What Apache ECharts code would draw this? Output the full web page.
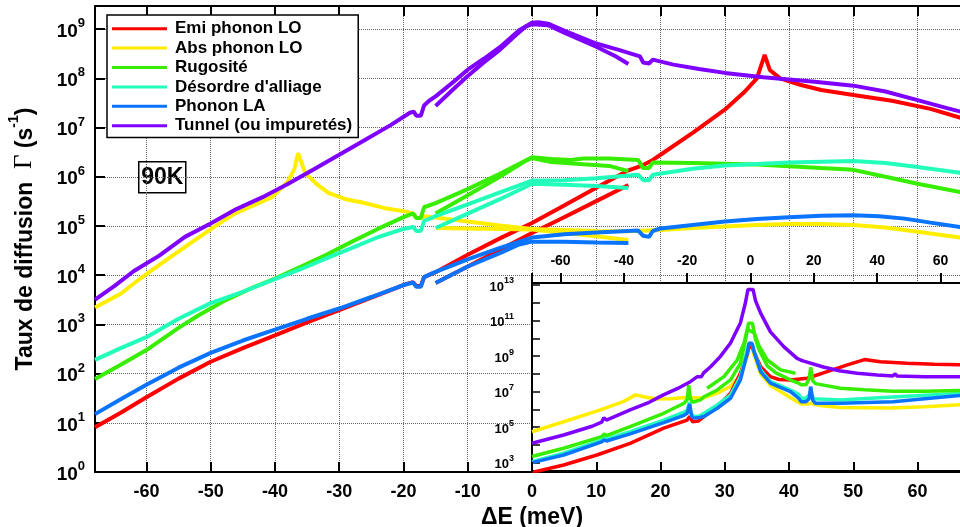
<!DOCTYPE html>
<html><head><meta charset="utf-8">
<script src="https://cdn.jsdelivr.net/npm/echarts@6/dist/echarts.min.js"></script>
<style>html,body{margin:0;padding:0;background:#fff}#c{width:960px;height:527px}</style>
</head><body><div id="c"></div>
<script>
// ---- categories / colours ----
const categories = ['Emi phonon LO','Abs phonon LO','Rugosité',"Désordre d'alliage",'Phonon LA','Tunnel (ou impuretés)'];
const colors = ['#ff0000','#ffee00','#38ee00','#22ffbb','#0a74ff','#8000ff'];

// ---- tick steps (exponents of 10 on the y axes) ----
const mainXStep = 10;
const mainYStep = 1;
const insetXStep = 20;
const insetYStep = 1;
const insetYLabels = [3,5,7,9,11,13];

// ---- main plot data : [ΔE (meV), Γ (s^-1)] ----
const emiMain = [[-68,8.1],[-64,16],[-60,33],[-55,79],[-50,174],[-45,330],[-40,600],[-35,1.1e3],[-30,1.95e3],[-25,3.5e3],[-20,6.3e3],[-18.5,7.2e3],[-18,6.0e3],[-17.3,6.0e3],[-16.8,9.1e3],[-15,1.15e4],[-10,2.6e4],[-5,5.6e4],[0,1.15e5],[5,2.6e5],[10,6.0e5],[15,1.35e6],[17,1.66e6],[18.8,2.2e6],[20,2.8e6],[25,7.8e6],[30,2.3e7],[33,5.2e7],[35,1.0e8],[36.2,3.0e8],[37,1.48e8],[38.6,1.0e8],[41.7,7.4e7],[45,5.8e7],[50,4.6e7],[56,3.5e7],[62,2.4e7],[68,1.41e7]];
const emiBranch = [[-15,6.9e3],[-10,1.5e4],[-5,3.3e4],[0,7.2e4],[5,1.5e5],[10,3.2e5],[15,6.8e5]];

const absMain = [[-68,2.2e3],[-64,4.2e3],[-61.3,7.9e3],[-57,2.0e4],[-52.4,5.2e4],[-49,1.05e5],[-46.2,1.8e5],[-43,2.75e5],[-40.4,3.9e5],[-38,7.9e5],[-37,1.41e6],[-36.4,3.0e6],[-35.3,1.2e6],[-33.5,7.1e5],[-31.7,4.7e5],[-29,3.5e5],[-26.4,3.0e5],[-22.9,2.3e5],[-20,2.0e5],[-18.5,1.8e5],[-18,1.45e5],[-17.3,1.45e5],[-16.8,1.58e5],[-15,1.48e5],[-10,1.23e5],[-5,1.02e5],[0,8.7e4],[5,8.3e4],[10,7.9e4],[15,7.8e4],[20,8.3e4],[25,9.1e4],[30,9.8e4],[35,1.05e5],[40,1.1e5],[45,1.1e5],[50,1.05e5],[55,9.3e4],[60,7.6e4],[66.6,5.8e4],[68,5.4e4]];
const absBranch = [[-15,9.1e4],[-10,8.9e4],[-5,8.7e4],[0,8.5e4],[5,7.2e4],[10,6.2e4],[15,5.2e4]];

const rugMain = [[-68,78],[-64,151],[-60,300],[-55,850],[-52,1.5e3],[-48,2.95e3],[-44,5.2e3],[-40,8.5e3],[-36,1.48e4],[-32,2.6e4],[-28,4.8e4],[-24,8.7e4],[-20,1.51e5],[-18.5,1.8e5],[-18,1.45e5],[-17.3,1.45e5],[-16.8,2.4e5],[-15,2.9e5],[-10,5.6e5],[-5,1.15e6],[0,2.5e6],[3,2.3e6],[6,2.2e6],[8,2.35e6],[12,2.35e6],[16.5,2.2e6],[17.3,1.5e6],[18.2,1.5e6],[18.8,1.95e6],[25,1.9e6],[35,1.78e6],[45,1.5e6],[50,1.38e6],[55,1.0e6],[60,7.2e5],[66.6,4.9e5],[68,4.6e5]];
const rugBranch = [[-15,1.8e5],[-10,4.2e5],[-5,1.0e6],[-1,2.1e6],[0,2.4e6],[3,2.0e6],[8,1.8e6],[12,1.66e6],[15,1.3e6]];

const allMain = [[-68,190],[-64,330],[-60,550],[-55,1.3e3],[-50,2.7e3],[-45,4.6e3],[-40,8.3e3],[-36,1.32e4],[-32,2.2e4],[-28,3.6e4],[-24,5.9e4],[-20,8.7e4],[-18.5,9.5e4],[-18,7.9e4],[-17.3,7.9e4],[-16.8,1.26e5],[-15,1.58e5],[-10,2.75e5],[-5,4.8e5],[0,8.3e5],[5,8.5e5],[10,9.3e5],[16.5,1.1e6],[17.3,8.5e5],[18.2,8.5e5],[18.8,1.1e6],[25,1.45e6],[30,1.7e6],[40,1.95e6],[50,2.1e6],[55,1.9e6],[60,1.58e6],[66.6,1.2e6],[68,1.12e6]];
const allBranch = [[-15,9.1e4],[-10,1.78e5],[-5,3.5e5],[0,7.2e5],[5,6.9e5],[10,6.5e5],[15,5.9e5]];

const laMain = [[-68,15],[-64,30],[-60,59],[-55,132],[-50,263],[-45,470],[-40,780],[-35,1.3e3],[-30,2.1e3],[-25,3.6e3],[-20,6.3e3],[-18.5,7.1e3],[-18,5.8e3],[-17.3,5.8e3],[-16.8,9.1e3],[-15,1.17e4],[-10,2.1e4],[-5,3.6e4],[0,5.8e4],[5,6.8e4],[10,7.4e4],[16.5,8.1e4],[17.3,6.3e4],[18.2,6.0e4],[18.8,7.9e4],[20,8.9e4],[25,1.05e5],[30,1.23e5],[35,1.38e5],[40,1.51e5],[45,1.62e5],[50,1.66e5],[54,1.58e5],[58,1.41e5],[62,1.17e5],[66.6,9.5e4],[68,8.9e4]];
const laBranch = [[-15,6.9e3],[-10,1.5e4],[-5,2.8e4],[-2,4.2e4],[0,4.8e4],[5,4.8e4],[10,4.6e4],[15,4.5e4]];

const tunMain = [[-68,3.2e3],[-65,6.0e3],[-62,1.2e4],[-58,2.5e4],[-54,6.0e4],[-50,1.12e5],[-46,2.2e5],[-42,3.8e5],[-38,7.1e5],[-34,1.41e6],[-30,2.8e6],[-26,5.6e6],[-22,1.12e7],[-19,2.0e7],[-18.4,2.1e7],[-18,1.74e7],[-17.3,1.74e7],[-16.8,2.8e7],[-16,3.5e7],[-15,4.3e7],[-12.5,7.9e7],[-10,1.5e8],[-7.5,2.5e8],[-5,4.3e8],[-2,9.5e8],[0,1.35e9],[1,1.38e9],[2.5,1.29e9],[5,9.3e8],[7.5,6.9e8],[10,5.1e8],[13.5,3.8e8],[16.8,2.8e8],[17.3,2.1e8],[18.2,2.0e8],[18.8,2.4e8],[22,1.9e8],[26,1.55e8],[30,1.29e8],[36,1.05e8],[44,8.5e7],[50,7.1e7],[55,5.4e7],[60,3.6e7],[64,2.6e7],[68,1.9e7]];
const tunBranch = [[-15,2.75e7],[-12.5,5.6e7],[-10,1.12e8],[-7.5,2.1e8],[-5,3.8e8],[-2.5,7.6e8],[-1,1.12e9],[0,1.26e9],[2.5,1.2e9],[5,8.5e8],[10,4.4e8],[13,2.8e8],[15,1.95e8]];

// ---- inset data ----
const emiInset = [[-69,280],[-59,740],[-48.5,2.7e3],[-38,1.23e4],[-27.4,8.7e4],[-20,2.5e5],[-19.2,4.0e5],[-18.3,2.0e5],[-16.5,2.2e5],[-14.7,3.9e5],[-10.5,1.41e6],[-6.3,8.1e6],[-3.2,1.07e8],[-1,1.45e9],[-0.5,3.2e9],[0.5,3.2e9],[1.2,1.6e9],[3.2,2.5e8],[6.3,6.9e7],[9,4.8e7],[12.6,4.5e7],[17.9,5.6e7],[24.2,1.32e8],[30.6,3.2e8],[36,6.3e8],[41,4.8e8],[49.5,3.9e8],[58,3.4e8],[69,3.2e8]];
const absInset = [[-69,5.5e4],[-59,2.0e5],[-47.4,9.3e5],[-40,2.8e6],[-36.3,6.5e6],[-33,4.8e6],[-29.5,3.8e6],[-25,4.0e6],[-21,4.6e6],[-14.7,4.4e6],[-10.5,8.1e6],[-6.3,2.0e7],[-3.2,7.9e7],[-1,1.0e9],[-0.5,3.2e9],[0.5,3.2e9],[1.2,1.0e9],[3.2,1.0e8],[6.3,2.2e7],[10,8.9e6],[14.7,2.7e6],[16,2.0e6],[17.9,2.0e6],[19,2.2e6],[22,1.66e6],[28.4,1.26e6],[44.2,1.2e6],[55,1.41e6],[69,1.9e6]];
const rugInset = [[-69,2.2e3],[-59,6.5e3],[-47,2.9e4],[-46.2,4.2e4],[-45.5,3.3e4],[-38,1.07e5],[-27.4,6.0e5],[-21,2.2e6],[-20,3.5e6],[-19.5,2.3e7],[-19,4.0e6],[-18.3,2.5e6],[-15.8,3.4e6],[-14.7,5.1e6],[-10.5,1.23e7],[-6.3,4.5e7],[-3.2,3.9e8],[-1.6,7.9e9],[-0.6,7.1e10],[0.6,7.1e10],[1.5,1.0e10],[2.6,2.5e9],[5.3,2.8e8],[8,1.12e8],[10.5,6.9e7],[13,4.2e7],[15.2,3.0e7],[16,2.4e7],[17.5,2.4e7],[18.5,5.0e7],[19,2.3e8],[19.7,4.0e7],[20.5,2.8e7],[28.4,1.55e7],[36,1.26e7],[45,1.05e7],[45.6,1.32e7],[46.3,1.05e7],[55,1.05e7],[69,1.17e7]];
const rugInsetBranch = [[-13.7,1.55e7],[-8.4,6.9e7],[-4.2,6.0e8],[-2,5.6e9],[-1,3.2e10],[1.2,2.0e10],[2.6,4.0e9],[5.3,6.0e8],[9.5,1.66e8],[14.2,1.07e8]];
const allInset = [[-69,1.15e3],[-59,3.4e3],[-47,1.86e4],[-46.2,2.5e4],[-45.5,2.1e4],[-38,5.5e4],[-27.4,2.5e5],[-21,6.9e5],[-20,8.9e5],[-19.3,2.5e6],[-18.8,6.3e5],[-17.9,3.9e5],[-16,4.2e5],[-14.7,6.0e5],[-10.5,1.78e6],[-6.3,6.5e6],[-3.2,6.9e7],[-1,2.2e9],[-0.5,5.0e9],[0.5,5.0e9],[1.2,1.6e9],[3.2,1.66e8],[6.3,3.6e7],[12.6,1.23e7],[15.2,7.1e6],[16,4.2e6],[17.5,4.2e6],[19,7.9e6],[19.9,4.0e6],[28.4,3.4e6],[45,5.0e6],[55,6.3e6],[69,8.3e6]];
const laInset = [[-69,1.0e3],[-59,2.7e3],[-47,1.48e4],[-46.2,1.9e4],[-45.5,1.66e4],[-38,4.2e4],[-27.4,1.78e5],[-21,4.6e5],[-20,6.0e5],[-19.2,2.0e6],[-18.6,4.0e5],[-17.9,3.2e5],[-16,3.5e5],[-14.7,4.0e5],[-10.5,1.15e6],[-6.3,4.2e6],[-3.2,4.5e7],[-1,1.45e9],[-0.5,5.2e9],[0.5,5.2e9],[1.2,1.6e9],[3.2,1.32e8],[6.3,3.0e7],[12.6,1.0e7],[15.2,4.2e6],[16,2.7e6],[17.5,2.7e6],[18.5,4.0e6],[19,1.9e7],[19.7,3.2e6],[20.5,2.2e6],[28.4,2.2e6],[45,2.7e6],[55,4.0e6],[69,6.6e6]];
const tunInset = [[-69,1.23e4],[-59,3.6e4],[-50,1.12e5],[-47,1.9e5],[-46.3,3.3e5],[-45.5,2.5e5],[-38,9.3e5],[-32,2.5e6],[-27.5,6.5e6],[-23,1.5e7],[-19,3.6e7],[-16.8,6.9e7],[-15.5,6.9e7],[-14.8,1.12e8],[-12.6,2.5e8],[-9.5,9.5e8],[-6.3,5.4e9],[-3.2,7.2e10],[-1.6,1.0e12],[-0.8,5.6e12],[0.8,5.6e12],[1.6,1.26e12],[3.2,2.6e11],[6.3,2.3e10],[10.5,3.4e9],[14.7,7.4e8],[15.8,6.0e8],[16.8,5.2e8],[23,2.4e8],[28,1.5e8],[33.7,1.07e8],[40,8.5e7],[45,7.6e7],[45.6,1.0e8],[46.3,7.6e7],[55,6.9e7],[69,6.9e7]];

// ---- build ----
const FONT = 'Liberation Sans';
const toLog = pairs => pairs.map(p => [p[0], Math.log10(p[1])]);
function line(ci, data, xi, yi, z, w) {
  return {type:'line', name:categories[ci], data:toLog(data), xAxisIndex:xi, yAxisIndex:yi,
    showSymbol:false, symbol:'none', z:z, silent:true, clip:true, animation:false,
    lineStyle:{color:colors[ci], width:w}, itemStyle:{color:colors[ci]}};
}
const series = [
  line(0, emiMain,0,0,3,4), line(0, emiBranch,0,0,3,4),
  line(1, absMain,0,0,3,4), line(1, absBranch,0,0,3,4),
  line(2, rugMain,0,0,3,4), line(2, rugBranch,0,0,3,4),
  line(3, allMain,0,0,3,4), line(3, allBranch,0,0,3,4),
  line(4, laMain,0,0,3,4), line(4, laBranch,0,0,3,4),
  line(5, tunMain,0,0,3,4), line(5, tunBranch,0,0,3,4),
  line(1, absInset,3,1,7,3.5), line(0, emiInset,3,1,7,3.5),
  line(3, allInset,3,1,7,3.5), line(4, laInset,3,1,7,3.5),
  line(2, rugInset,3,1,7,3.5), line(2, rugInsetBranch,3,1,7,3.5),
  line(5, tunInset,3,1,7,3.5)
];

const isMult = (v, s) => Math.abs(v / s - Math.round(v / s)) < 1e-6;
const blackLine = {show:true, onZero:false, lineStyle:{color:'#000', width:2}};
const dotted = {show:true, lineStyle:{color:'#666', width:1, type:'dotted'}};
const tickIn = {show:true, inside:true, length:10, lineStyle:{color:'#000', width:2}};
const supRich = (b, s, lh) => ({
  b:{fontSize:b, fontWeight:'bold', fontFamily:FONT, lineHeight:lh, verticalAlign:'bottom', color:'#000'},
  s:{fontSize:s, fontWeight:'bold', fontFamily:FONT, lineHeight:s, verticalAlign:'top', color:'#000'}});
const mainX = (extra) => Object.assign({gridIndex:0, type:'value', min:-68, max:68,
  minInterval:mainXStep, maxInterval:mainXStep, splitNumber:14}, extra);
const insetX = (extra) => Object.assign({gridIndex:1, type:'value', min:-69, max:69, z:6,
  minInterval:insetXStep, maxInterval:insetXStep, splitNumber:7}, extra);

const option = {
  animation:false,
  textStyle:{fontFamily:FONT},
  grid:[
    {left:95, top:6, width:874, height:466, show:false, containLabel:false, outerBoundsMode:'none'},
    {left:532, top:283, width:437, height:188, show:true, backgroundColor:'#fff', borderWidth:0, z:5,
     containLabel:false, outerBoundsMode:'none'}
  ],
  xAxis:[
    mainX({position:'bottom', axisLine:blackLine, axisTick:tickIn,
     axisLabel:{fontSize:18, fontWeight:'bold', color:'#000', margin:11, fontFamily:FONT,
       formatter: v => isMult(v, mainXStep) ? String(Math.round(v)) : ''},
     splitLine:dotted,
     name:'ΔE (meV)', nameLocation:'middle', nameGap:28,
     nameTextStyle:{fontSize:23, fontWeight:'bold', color:'#000', fontFamily:FONT}}),
    mainX({position:'top', axisLine:blackLine, axisTick:tickIn, axisLabel:{show:false}, splitLine:{show:false}}),
    mainX({position:'bottom', z:8, axisLine:{show:false, onZero:false}, axisTick:tickIn,
     axisLabel:{show:false}, splitLine:{show:false}}),
    insetX({position:'bottom', axisLine:blackLine, axisTick:{show:false}, axisLabel:{show:false}, splitLine:{show:false}}),
    insetX({position:'top', axisLine:blackLine,
     axisTick:{show:true, inside:false, length:10, lineStyle:{color:'#000', width:2}},
     axisLabel:{fontSize:14, fontWeight:'bold', color:'#000', margin:15, fontFamily:FONT,
       formatter: v => isMult(v, insetXStep) ? String(Math.round(v)) : ''},
     splitLine:{show:false}})
  ],
  yAxis:[
    {gridIndex:0, type:'value', min:0, max:9.47, interval:mainYStep, position:'left', axisLine:blackLine,
     axisTick:tickIn,
     axisLabel:{margin:10, color:'#000',
       formatter: v => isMult(v, 1) ? '{b|10}{s|' + Math.round(v) + '}' : '',
       rich:supRich(19, 13, 24)},
     splitLine:dotted,
     name:'{a|Taux de diffusion  }{g|Γ}{a| (s}{s|-1}{a|)}', nameLocation:'middle', nameGap:58,
     nameTextStyle:{color:'#000', rich:{
       a:{fontSize:23, fontWeight:'bold', fontFamily:FONT, lineHeight:30, verticalAlign:'bottom', color:'#000'},
       g:{fontSize:25, fontFamily:'Liberation Serif', lineHeight:30, verticalAlign:'bottom', color:'#000'},
       s:{fontSize:14, fontWeight:'bold', fontFamily:FONT, lineHeight:14, verticalAlign:'top', color:'#000'}}}},
    {gridIndex:1, type:'value', min:2.53, max:13.11, minInterval:insetYStep, maxInterval:insetYStep, splitNumber:11,
     position:'left', z:6, axisLine:blackLine,
     axisTick:{show:true, inside:true, length:8, lineStyle:{color:'#000', width:1.5}},
     axisLabel:{margin:18, color:'#000',
       formatter: v => (isMult(v, 1) && insetYLabels.indexOf(Math.round(v)) >= 0) ? '{b|10}{s|' + Math.round(v) + '}' : '',
       rich:supRich(13, 9, 17)},
     splitLine:{show:false}}
  ],
  legend:{data:categories, orient:'vertical', left:107, top:15, z:10,
    icon:'rect', itemWidth:55, itemHeight:3, itemGap:0,
    backgroundColor:'#fff', borderColor:'#000', borderWidth:1.5, borderRadius:0,
    padding:[4,6,2,5], selectedMode:false,
    textStyle:{fontSize:17, fontWeight:'bold', color:'#000', fontFamily:FONT, lineHeight:19.4, padding:[0,0,0,3]}},
  graphic:[{type:'group', left:138, top:161, z:10, children:[
    {type:'rect', shape:{x:0, y:0, width:47, height:31}, style:{fill:'#fff', stroke:'#000', lineWidth:1.5}},
    {type:'text', x:23.5, y:16, style:{text:'90K', font:'bold 23px "Liberation Sans"', align:'center', verticalAlign:'middle', fill:'#000'}}
  ]}],
  series:series
};
const chart = echarts.init(document.getElementById('c'), null, {renderer:'canvas'});
chart.setOption(option);
</script>
</body></html>
